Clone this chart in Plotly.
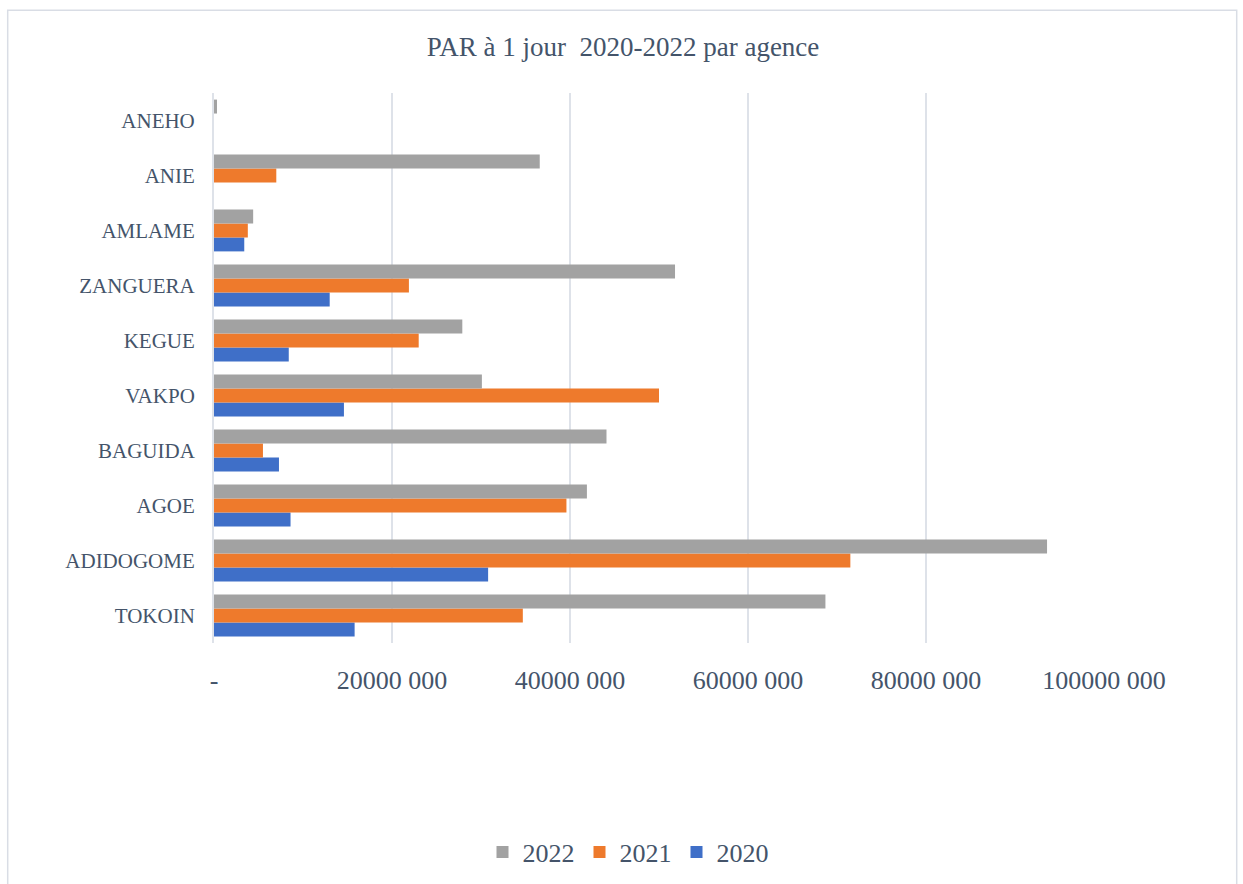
import plotly.graph_objects as go

agencies = ["TOKOIN", "ADIDOGOME", "AGOE", "BAGUIDA", "VAKPO", "KEGUE",
            "ZANGUERA", "AMLAME", "ANIE", "ANEHO"]
values_2020 = [15.8e6, 30.8e6, 8.6e6, 7.3e6, 14.6e6, 8.4e6, 13.0e6, 3.4e6, 0, 0]
values_2021 = [34.7e6, 71.5e6, 39.6e6, 5.5e6, 50.0e6, 23.0e6, 21.9e6, 3.8e6, 7.0e6, 0]
values_2022 = [68.7e6, 93.6e6, 41.9e6, 44.1e6, 30.1e6, 27.9e6, 51.8e6, 4.4e6, 36.6e6, 0.34e6]

tick_vals = [0, 20e6, 40e6, 60e6, 80e6, 100e6]
tick_text = ["-", "20000 000", "40000 000", "60000 000", "80000 000", "100000 000"]

title_text = "PAR à 1 jour  2020-2022 par agence"

TEXT = "#44546a"
FONT = "Liberation Serif, Times New Roman, serif"

fig = go.Figure()
series = [
    ("2020", values_2020, "#3f6fc8"),
    ("2021", values_2021, "#ee7a2c"),
    ("2022", values_2022, "#a2a2a2"),
]
for name, vals, col in series:
    fig.add_trace(go.Bar(
        y=agencies, x=vals, name=name, orientation="h",
        marker=dict(color=col, line=dict(width=0)),
    ))

# chart border (left, top, right visible)
L, R, T, B = 214.3, 1104.3, 92.7, 642.7
pw, ph = R - L, B - T
def px_x(x):
    return (x - L) / pw
def px_y(y):
    return (B - y) / ph

fig.add_shape(type="rect", xref="paper", yref="paper",
              x0=px_x(8), x1=px_x(1237), y0=px_y(10), y1=px_y(900),
              line=dict(color="#d9dde5", width=1.5), fillcolor="rgba(0,0,0,0)",
              layer="below")

fig.update_layout(
    width=1243, height=884,
    margin=dict(l=L, r=1243 - R, t=T, b=884 - B, autoexpand=False),
    paper_bgcolor="white", plot_bgcolor="white",
    barmode="group", bargap=0.24, bargroupgap=0,
    font=dict(family=FONT, color=TEXT),
    title=dict(text=title_text, x=623 / 1243, xref="container", xanchor="center",
               y=1 - 47 / 884, yref="container", yanchor="middle",
               font=dict(size=27, color=TEXT, family=FONT)),
    xaxis=dict(range=[0, 100e6], tickvals=tick_vals, ticktext=tick_text,
               showgrid=True, gridcolor="#dee2e9", gridwidth=1.5,
               zeroline=False, showline=False,
               ticks="outside", ticklen=14, tickcolor="rgba(0,0,0,0)",
               tickfont=dict(size=26, color=TEXT, family=FONT)),
    yaxis=dict(showgrid=False, zeroline=False,
               showline=True, linecolor="#dee2e9", linewidth=2,
               ticks="outside", ticklen=13, tickcolor="rgba(0,0,0,0)",
               tickfont=dict(size=21, color=TEXT, family=FONT)),
    legend=dict(orientation="h", traceorder="reversed",
                x=628 / 1243, xref="container", xanchor="center",
                y=1 - 852 / 884, yref="container", yanchor="middle",
                font=dict(size=26, color=TEXT, family=FONT),
                itemwidth=30, bgcolor="rgba(0,0,0,0)"),
    showlegend=True,
)

fig.write_html("out.html")
